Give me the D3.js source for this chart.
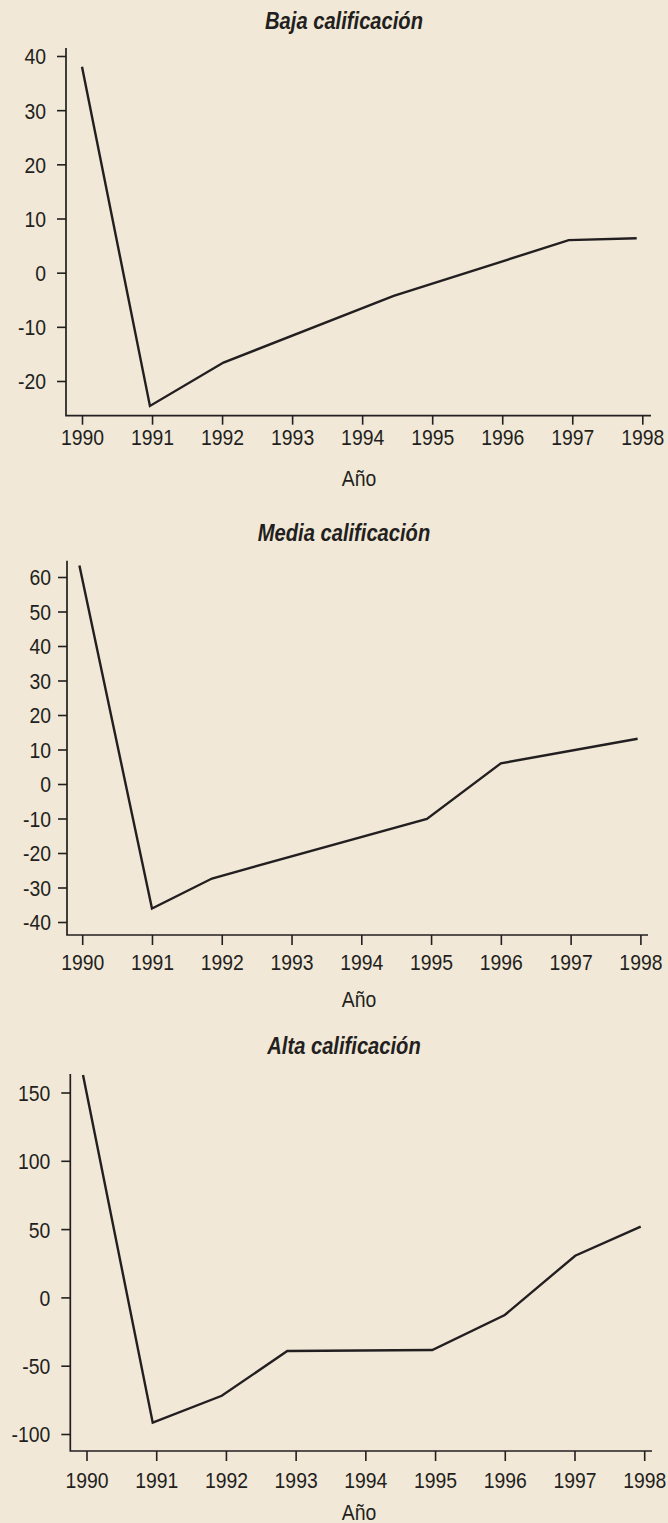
<!DOCTYPE html>
<html><head><meta charset="utf-8">
<script src="https://cdn.jsdelivr.net/npm/d3@7"></script>
<style>
html,body{margin:0;padding:0;background:#f1e8d7;}
svg{display:block;}
</style>
</head><body>
<svg id="chart" width="668" height="1523"></svg>
<script>
// ---- data ----
const tickYears = [1990, 1991, 1992, 1993, 1994, 1995, 1996, 1997, 1998];
const titles = ["Baja calificación", "Media calificación", "Alta calificación"];
const xAxisLabel = "Año";

const bajaYears  = [1990, 1990.97, 1992.02, 1994.45, 1996.95, 1997.92];
const bajaValues = [38.0, -24.6, -16.6, -4.3, 6.0, 6.35];
const bajaTicks  = [-20, -10, 0, 10, 20, 30, 40];

const mediaYears  = [1989.96, 1991.0, 1991.86, 1994.94, 1996.0, 1997.96];
const mediaValues = [63.3, -36.1, -27.4, -10.1, 6.0, 13.1];
const mediaTicks  = [-40, -30, -20, -10, 0, 10, 20, 30, 40, 50, 60];

const altaYears  = [1989.95, 1990.95, 1991.94, 1992.88, 1994.96, 1996.0, 1997.01, 1997.95];
const altaValues = [162.8, -91.7, -72.0, -39.2, -38.5, -12.9, 30.5, 51.8];
const altaTicks  = [-100, -50, 0, 50, 100, 150];

// ---- layout (positions/styles only) ----
const ink = "#231f20";
const panels = [
  {title: titles[0], years: bajaYears, values: bajaValues, ticks: bajaTicks,
   yDom: [-20, 40], yRange: [381, 56], xRange: [82, 642.3],
   axisX: 66, axisTop: 48, axisBottom: 415.7, axisRight: 651,
   titleY: 29, xTickLen: 9, xLabelY: 29.5, anoY: 486, yGap: 20},
  {title: titles[1], years: mediaYears, values: mediaValues, ticks: mediaTicks,
   yDom: [-40, 60], yRange: [922, 577], xRange: [82.2, 640.4],
   axisX: 67, axisTop: 560.7, axisBottom: 935, axisRight: 648,
   titleY: 541, xTickLen: 10, xLabelY: 35, anoY: 1006.5, yGap: 16},
  {title: titles[2], years: altaYears, values: altaValues, ticks: altaTicks,
   yDom: [-100, 150], yRange: [1434, 1092.5], xRange: [86.5, 644.2],
   axisX: 70.3, axisTop: 1074, axisBottom: 1451, axisRight: 652,
   titleY: 1054, xTickLen: 10, xLabelY: 37, anoY: 1520, yGap: 20}
];

const svg = d3.select("#chart");
svg.append("rect").attr("width", 668).attr("height", 1523).attr("fill", "#f1e8d7");

const sx = 0.88;
const fmt = d => String(d);   // plain hyphen for negatives, as in the original

panels.forEach(p => {
  const x = d3.scaleLinear().domain([tickYears[0], tickYears[tickYears.length - 1]]).range(p.xRange);
  const y = d3.scaleLinear().domain(p.yDom).range(p.yRange);
  const g = svg.append("g");

  // title
  g.append("g").attr("transform", `translate(344,${p.titleY}) scale(0.84,1)`)
    .append("text").attr("text-anchor", "middle")
    .attr("font-family", "Liberation Sans, Arial, sans-serif")
    .attr("font-weight", "bold").attr("font-style", "italic")
    .attr("font-size", 24).attr("fill", ink).text(p.title);

  // y axis
  const ya = g.append("g").attr("transform", `translate(${p.axisX},0)`)
    .call(d3.axisLeft(y).tickValues(p.ticks).tickSize(9).tickSizeOuter(0).tickFormat(fmt));
  ya.select(".domain").remove();
  ya.selectAll(".tick line").attr("stroke", ink).attr("stroke-width", 1.6);
  ya.selectAll(".tick text")
    .attr("x", 0).attr("dy", "0.36em")
    .attr("transform", `translate(${-p.yGap},0) scale(${sx},1)`)
    .attr("font-family", "Liberation Sans, Arial, sans-serif")
    .attr("font-size", 22).attr("fill", ink);

  // x axis
  const xa = g.append("g").attr("transform", `translate(0,${p.axisBottom})`)
    .call(d3.axisBottom(x).tickValues(tickYears).tickSize(p.xTickLen).tickSizeOuter(0).tickFormat(fmt));
  xa.select(".domain").remove();
  xa.selectAll(".tick line").attr("stroke", ink).attr("stroke-width", 1.6);
  xa.selectAll(".tick text")
    .attr("x", 0).attr("y", p.xLabelY).attr("dy", 0)
    .attr("transform", `scale(${sx},1)`)
    .attr("font-family", "Liberation Sans, Arial, sans-serif")
    .attr("font-size", 22).attr("fill", ink);

  // axis lines (L-shaped frame)
  g.append("path")
    .attr("d", `M${p.axisX},${p.axisTop}V${p.axisBottom}H${p.axisRight}`)
    .attr("fill", "none").attr("stroke", ink).attr("stroke-width", 1.7);

  // x-axis title
  g.append("g").attr("transform", `translate(359,${p.anoY}) scale(${sx},1)`)
    .append("text").attr("text-anchor", "middle")
    .attr("font-family", "Liberation Sans, Arial, sans-serif")
    .attr("font-size", 22).attr("fill", ink).text(xAxisLabel);

  // data line
  const pts = p.years.map((yr, i) => [yr, p.values[i]]);
  g.append("path").datum(pts)
    .attr("d", d3.line().x(d => x(d[0])).y(d => y(d[1])))
    .attr("fill", "none").attr("stroke", ink).attr("stroke-width", 2.4)
    .attr("stroke-linejoin", "miter");
});
</script>
</body></html>
